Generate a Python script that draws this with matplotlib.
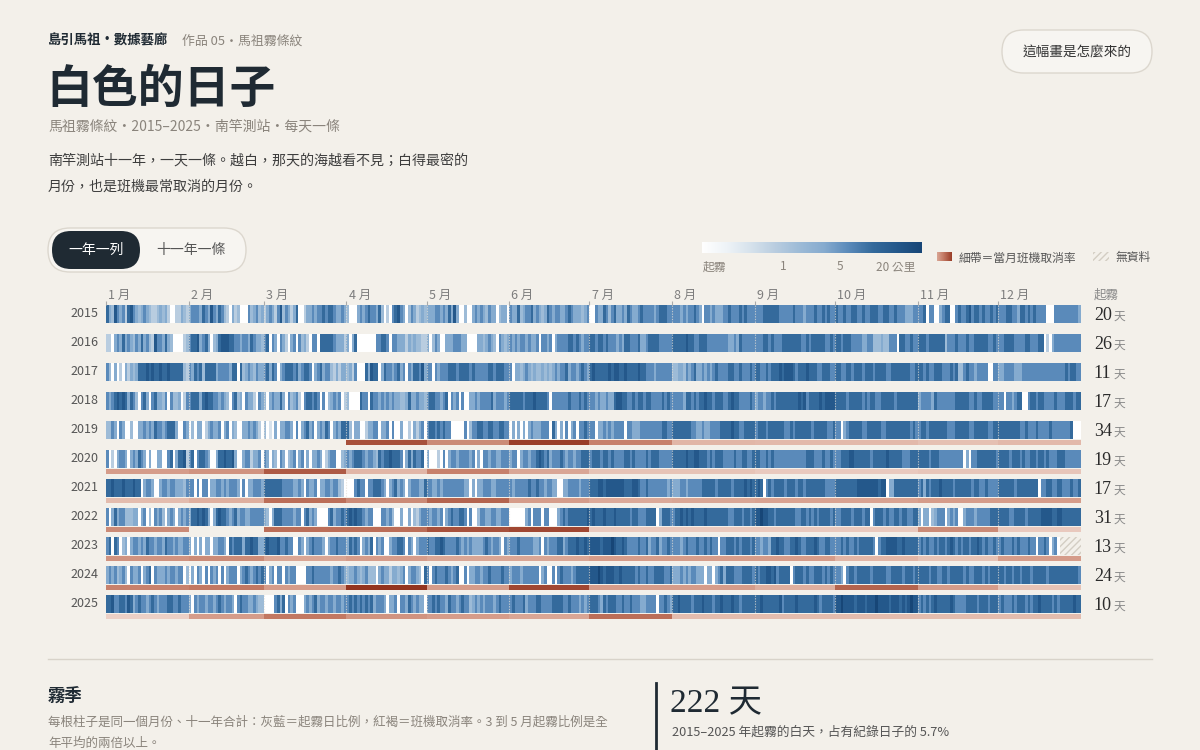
import numpy as np
import matplotlib
matplotlib.use('Agg')
import matplotlib.pyplot as plt
from matplotlib.colors import LinearSegmentedColormap
from matplotlib.patches import FancyBboxPatch, Rectangle

plt.rcParams['font.family'] = ['Noto Sans CJK TC', 'DejaVu Sans']
SERIF = ['Liberation Serif', 'Noto Sans CJK TC']
BG = '#f3f0ea'
INK = '#1f2a33'
MUTED = '#8a847c'

# daily visibility, one string per month: 0 = fog (white) .. 9 = 20 km+, x = no data
years = [2015, 2016, 2017, 2018, 2019, 2020, 2021, 2022, 2023, 2024, 2025]
fog_days = [20, 26, 11, 17, 34, 19, 17, 31, 13, 24, 10]

vis_2015 = ["7548656378 6545654334 5453003354 3", "5666576586 5764305340 00645645",
            "3565368465 3570035565 6676776556 5", "4000565676 6574030678 6504653454",
            "5556656575 8500400565 6546550455 0", "6557456675 6545765665 5676555456",
            "0065576467 5565765567 6666567776 6", "6665656676 5066565556 6766676766 6",
            "6667777776 6666766656 6676676766", "7667667766 7667776677 6676665556 6",
            "6670660056 7700676678 6776766767", "6667766577 6767666600 0666666666 5"]
vis_2016 = ["3305657565 4657564386 6575400003 4", "6778567504 5788877665 66576554",
            "6706506530 5606453066 0777776555 3", "5057000000 0667760665 5535454433",
            "5046500555 6665500005 5456540654 5", "6565665655 6066560566 6677676566",
            "7767767666 5657766675 5677776666 6", "7777787766 7776666666 6556576666 6",
            "6667767666 7777777667 6777776676", "7767776666 5566444544 6660776676 6",
            "7776777777 4666766676 6777776676", "6677776666 7766677030 5666666666 6"]
vis_2017 = ["6405030535 4577787877 8778777774 3", "6576747777 5666657707 45654655",
            "6757605677 7675677605 6756643535 5", "4536000758 7705766567 5606577685",
            "6606566677 7677776766 6667767776 6", "6055456545 4454545656 6756656765",
            "7877777878 8778777787 7666566666 6", "4455465675 5656567666 6776676667 6",
            "7766767778 7888767778 7776677766", "7766776777 6777677776 6777777766 7",
            "7767667776 6676744676 6566660066", "5566665556 6666666666 6666676776 6"]
vis_2018 = ["6567878757 6406750675 5460644503 6", "6777578776 6565406745 06553065",
            "4056557506 4563067767 6060456560 3", "4000076607 6656565655 4457556554",
            "6776656706 5606005565 6666756665 6", "7777767778 7777606666 6676667676",
            "6656556557 8877667677 6776666767 6", "6666577676 7787767776 6787766667 6",
            "5665667677 7777778786 7777878888", "7777677777 6767766777 7767777777 7",
            "5666657666 6666777776 6766777766", "6606656770 0677677666 6766677767 7"]
vis_2019 = ["4465065004 0055656576 6567775006 5", "0405503565 5605605400 55656530",
            "4020505566 5060567560 5657605657 7", "7405500355 6605560600 5003053560",
            "6776767660 0000604667 7667766776 6", "0505050565 5566607505 0605606676",
            "6605565656 6660665556 6666666776 6", "7777777665 5655666677 7787766777 7",
            "6777677777 7667677777 7677777667", "6605677777 6677777667 7777777767 6",
            "6776777777 7666777776 6777776677", "7777777766 7666766667 6666666700 0"]
vis_2020 = ["6030566505 6576505005 5006705778 3", "6706776500 5778778500 56635560",
            "6505406504 5605605055 6503566004 5", "6567776566 5476778777 6057576670",
            "5000306056 6566665605 0665665566 6", "5660566566 7876756667 6566566777",
            "6777677676 6667767666 6767776666 6", "7777787788 7776767776 6667667766 7",
            "7766767666 6666666667 7766676676", "6677788777 7776777778 7777766677 7",
            "7777677766 6666666050 6677777776", "7777677767 6677677676 6677766666 6"]
vis_2021 = ["7787778777 8770566500 5665665554 6", "6606066055 6656566650 60556665",
            "7777777666 6556506556 0556656643 0", "0006766066 7776505675 6505666557",
            "6655656666 6666550505 5666556666 6", "6566666766 7665665500 5566665666",
            "7778878888 8887778876 6766666665 6", "5556656666 6777776777 7767777878 7",
            "7870676777 7677767767 7777776666", "7777777788 8888887880 5577777777 7",
            "6757677787 7776777777 6776676666", "7777776777 7777706677 6677666766 7"]
vis_2022 = ["6057566444 5505604065 6405650565 6", "5778787505 7877656756 65566666",
            "5405777666 6566067565 0000675667 6", "7878776566 0006656400 5005043566",
            "6566560567 6677606004 6655665566 6", "0000005606 6606600056 7677777778",
            "7877787778 7777767766 6777705777 6", "6778787877 7787777777 7667776776 7",
            "8898877677 7777766776 7676777767", "6677776777 6770677767 6677677667 7",
            "5055045666 0565600566 6566666777", "7777667777 6777778888 7788777777 7"]
vis_2023 = ["6707604505 6656576656 6576656556 6", "5050505505 5665076777 57787755",
            "7877786676 6006505676 6650566766 6", "5767605657 0656005667 7606505666",
            "7667787666 6765656555 5676566506 5", "6667666665 5606566677 5677787787",
            "8888788898 7787666676 6756675667 6", "6665676667 6676766066 7776767776 7",
            "6656657787 7667787667 7787667766", "6676766767 7777606778 8887787777 7",
            "6767667677 6787676776 7787676676", "6766676766 6766066760 560xxxxxxx x"]
vis_2024 = ["5656456406 5560567065 5565665660 4", "0506506065 6060566605 67656767",
            "6056066065 6600006676 6666656676 5", "4556545644 4056553554 5605665407",
            "6067666765 6700605566 5667666676 6", "5666566666 6056006067 6665677777",
            "8889878887 7877777676 6766777766 7", "5556565665 5505505675 7776667777 6",
            "7677887867 7770677767 6677767676", "6650677677 7776777776 6777767776 7",
            "7777677667 7677777676 6777676777", "7767767767 7767777767 7777777777 6"]
vis_2025 = ["7786677687 5676656765 6667766766 6", "5065665665 6765665067 66556544",
            "0000675706 5600056567 5665665665 6", "6767676767 5666505560 6657656550",
            "6676766576 6567664565 6566656766 6", "6766675666 7766667777 6676665656",
            "7776576777 6676676665 5666606676 5", "7787777677 7877767787 7787767777 7",
            "7787777778 6777787777 7787677776", "8898888788 8788898888 7888787898 8",
            "6767678777 7787666677 7767776777", "6766676777 6767787777 6767777787 7"]

# monthly flight cancellation rate (relative), None = no band
cancel_2019 = [None, None, None, 0.85, 0.55, 0.95, 0.6, 0.3, 0.28, 0.28, 0.22, 0.28]
cancel_2020 = [0.45, 0.5, 0.8, 0.3, 0.6, 0.4, 0.2, 0.2, 0.15, 0.15, 0.18, 0.18]
cancel_2021 = [0.25, 0.35, 0.7, 0.55, 0.75, 0.45, 0.38, 0.4, 0.42, 0.42, 0.45, 0.45]
cancel_2022 = [0.55, None, 0.7, 0.7, 0.85, 0.9, 0.15, 0.15, 0.15, 0.15, 0.55, 0.15]
cancel_2023 = [0.5, 0.55, 0.4, 0.45, 0.4, 0.4, 0.45, 0.45, 0.45, 0.3, 0.2, 0.45]
cancel_2024 = [0.6, 0.65, 0.45, 1.0, 0.45, 0.9, 0.45, 0.45, 0.35, 0.75, 0.45, 0.2]
cancel_2025 = [0.1, 0.45, 0.65, 0.5, 0.45, 0.4, 0.7, 0.25, 0.25, 0.25, 0.25, 0.25]

month_days = [31, 28, 31, 30, 31, 30, 31, 31, 30, 31, 30, 31]
month_names = ['%d 月' % m for m in range(1, 13)]

vis_rows = [vis_2015, vis_2016, vis_2017, vis_2018, vis_2019, vis_2020,
            vis_2021, vis_2022, vis_2023, vis_2024, vis_2025]
cancel_rows = [None, None, None, None, cancel_2019, cancel_2020, cancel_2021,
               cancel_2022, cancel_2023, cancel_2024, cancel_2025]

month_start = np.concatenate([[0], np.cumsum(month_days)[:-1]])

blue = LinearSegmentedColormap.from_list('fog', [
    (0, '#ffffff'), (1 / 9, '#eef3f7'), (2 / 9, '#d6e2ec'), (3 / 9, '#b9cde0'),
    (4 / 9, '#9dbbd7'), (5 / 9, '#86abcf'), (6 / 9, '#5a8aba'), (7 / 9, '#346a9c'),
    (8 / 9, '#24588b'), (1, '#174677')])
rust = LinearSegmentedColormap.from_list('cancel', [
    (0, '#f1ddd5'), (0.35, '#deaf9f'), (0.65, '#c27862'), (1, '#93341f')])

fig = plt.figure(figsize=(12, 7.5), dpi=100, facecolor=BG)

# page layer in pixel units
bg = fig.add_axes([0, 0, 1, 1])
bg.set_facecolor(BG)
bg.axis('off')

# heat strip layer: x = day of year, y = row
ax = fig.add_axes([106 / 1200, 1 - 619 / 750, 975 / 1200, 314 / 750])
ax.axis('off')
H = 0.31

for i, (yr, months) in enumerate(zip(years, vis_rows)):
    for m, s in enumerate(months):
        s = s.replace(' ', '')
        vals = np.array([np.nan if c == 'x' else int(c) / 9 for c in s])
        x0 = month_start[m]
        edges = np.linspace(x0, x0 + month_days[m], len(s) + 1)
        ax.pcolormesh(edges, [i - H, i + H], np.ma.masked_invalid(vals)[None, :],
                      cmap=blue, vmin=0, vmax=1, shading='flat', lw=0, antialiased=False)
        # no data: hatched
        j = 0
        while j < len(s):
            if s[j] == 'x':
                k = j
                while k < len(s) and s[k] == 'x':
                    k += 1
                ax.add_patch(Rectangle((edges[j], i - H), edges[k] - edges[j], 2 * H,
                                       facecolor='none', hatch='/////', edgecolor='#d3cdc3', lw=0))
                j = k
            else:
                j += 1
    ax.vlines(month_start[1:], i - H, i + H, color='#e4dfd6', lw=0.8, alpha=0.7,
              linestyles=(0, (1.2, 1.2)))

    c = cancel_rows[i]
    if c is not None:
        ok = [m for m in range(12) if c[m] is not None]
        ax.bar(month_start[ok], 0.155, width=np.array(month_days)[ok], bottom=i + 0.36,
               align='edge', color=rust([c[m] for m in ok]), lw=0)

    ax.text(-3, i, str(yr), ha='right', va='center', fontsize=9, color='#555')
    t = ax.text(369.8, i + 0.04, str(fog_days[i]), ha='left', va='center', fontsize=13,
                family=SERIF, color='#2b2b2b')
    ax.annotate('天', xy=(1, 0.5), xycoords=t, xytext=(1.5, -0.5), textcoords='offset points',
                ha='left', va='center', fontsize=8.5, color='#8a8a8a')

for m in range(12):
    ax.text(month_start[m] + 0.8, -0.64, month_names[m], ha='left', va='center',
            fontsize=9, color='#7d7d7d')
ax.vlines(month_start, -0.45, -0.31, color='#aaa', lw=0.8, clip_on=False)
ax.text(369.8, -0.64, '起霧', ha='left', va='center', fontsize=9, color='#8a8a8a')
ax.set_xlim(0, 365)
ax.set_ylim(10.52, -H)

# header
bg.text(48, 41, '島引馬祖・數據藝廊', fontsize=9.6, fontweight='bold', color=INK, va='center')
bg.text(182, 41, '作品 05・馬祖霧條紋', fontsize=9.3, color=MUTED, va='center')
bg.text(46, 90, '白色的日子', fontsize=33, fontweight='bold', color=INK, va='center')
bg.text(48, 127, '馬祖霧條紋・2015–2025・南竿測站・每天一條', fontsize=10, color=MUTED, va='center')
bg.text(48, 161, '南竿測站十一年，一天一條。越白，那天的海越看不見；白得最密的',
        fontsize=10.1, color='#3d3d3d', va='center')
bg.text(48, 187, '月份，也是班機最常取消的月份。', fontsize=10.1, color='#3d3d3d', va='center')

# button
bg.add_patch(FancyBboxPatch((1002, 30), 150, 43, boxstyle='round,pad=0,rounding_size=21.5',
                            facecolor='#f7f5f1', edgecolor='#dcd7ce', lw=1))
bg.text(1077, 52, '這幅畫是怎麼來的', fontsize=9.8, color='#333', ha='center', va='center')

# toggle
bg.add_patch(FancyBboxPatch((48, 228), 198, 44, boxstyle='round,pad=0,rounding_size=22',
                            facecolor='#f7f5f1', edgecolor='#dcd7ce', lw=1))
bg.add_patch(FancyBboxPatch((52, 231), 88, 38, boxstyle='round,pad=0,rounding_size=19',
                            facecolor=INK, edgecolor='none'))
bg.text(96, 250, '一年一列', fontsize=10, color='white', ha='center', va='center')
bg.text(191, 250, '十一年一條', fontsize=10, color='#555', ha='center', va='center')

# legend
bg.imshow(np.linspace(0, 1, 256)[None, :], extent=[702, 922, 253, 242], cmap=blue,
          aspect='auto', interpolation='bilinear')
for lx, lab in [(714, '起霧'), (783, '1'), (840, '5'), (896, '20 公里')]:
    bg.text(lx, 267, lab, fontsize=8.5, color=MUTED, ha='center', va='center')
bg.imshow(np.linspace(0.4, 0.95, 50)[None, :], extent=[937, 952, 261, 252], cmap=rust,
          vmin=0, vmax=1, aspect='auto', interpolation='bilinear')
bg.text(959, 258, '細帶＝當月班機取消率', fontsize=8.5, color='#555', va='center')
bg.add_patch(Rectangle((1093, 252), 16, 9, facecolor='none', hatch='/////',
                       edgecolor='#d3cdc3', lw=0))
bg.text(1116, 258, '無資料', fontsize=8.5, color='#555', va='center')

# footer
bg.plot([48, 1152], [659, 659], color='#d8d3ca', lw=1)
bg.text(48, 697, '霧季', fontsize=12.5, fontweight='bold', color=INK, va='center')
bg.text(48, 722, '每根柱子是同一個月份、十一年合計：灰藍＝起霧日比例，紅褐＝班機取消率。3 到 5 月起霧比例是全',
        fontsize=9.0, color=MUTED, va='center')
bg.text(48, 743, '年平均的兩倍以上。', fontsize=9.0, color=MUTED, va='center')
bg.plot([656, 656], [683, 752], color=INK, lw=2)
bg.text(670, 704, '222 天', family=SERIF, fontsize=24, color=INK, va='center')
bg.text(672, 732, '2015–2025 年起霧的白天，占有紀錄日子的 5.7%', fontsize=9.2, color='#555', va='center')

bg.set_xlim(0, 1200)
bg.set_ylim(750, 0)

fig.savefig('out.png', dpi=100, facecolor=BG)
